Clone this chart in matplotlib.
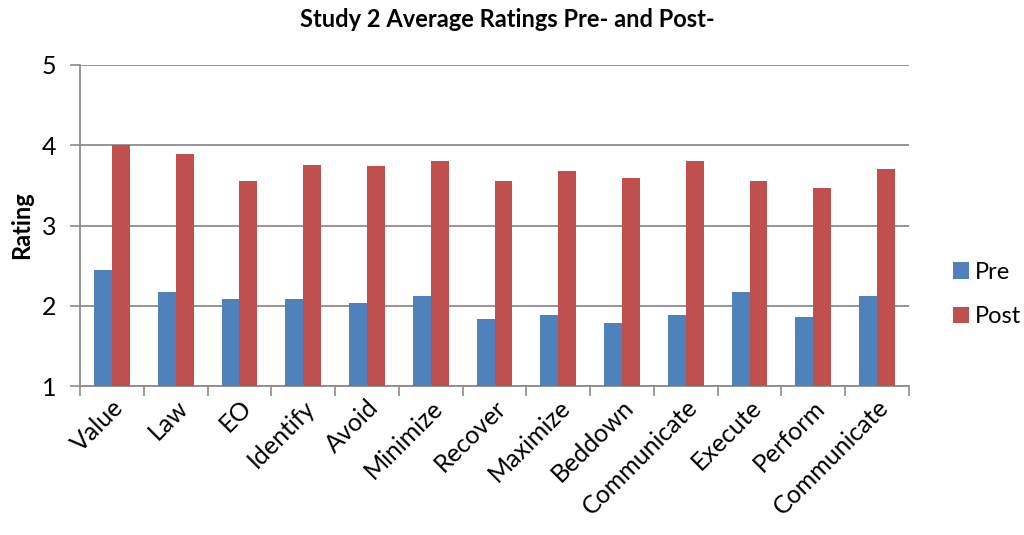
import numpy as np
import matplotlib.pyplot as plt

# data
categories = ['Value', 'Law', 'EO', 'Identify', 'Avoid', 'Minimize', 'Recover',
              'Maximize', 'Beddown', 'Communicate', 'Execute', 'Perform', 'Communicate']
pre = [2.44, 2.17, 2.09, 2.09, 2.03, 2.12, 1.84, 1.89, 1.78, 1.88, 2.17, 1.86, 2.12]
post = [4.00, 3.89, 3.56, 3.76, 3.74, 3.80, 3.56, 3.68, 3.59, 3.80, 3.56, 3.47, 3.70]

plt.rcParams['font.family'] = ['Lato', 'DejaVu Sans']

fig = plt.figure(figsize=(10.24, 5.35), dpi=100)
ax = fig.add_axes([80/1024, 1-386/535, (909-80)/1024, (386-65)/535])

x = np.arange(len(categories))
w = 0.28
ax.bar(x - w/2, pre, w, color='#4F81BD', label='Pre', zorder=3)
ax.bar(x + w/2, post, w, color='#C0504D', label='Post', zorder=3)

ax.set_ylim(1, 5)
ax.set_xlim(-0.5, len(categories) - 0.5)
ax.set_yticks([1, 2, 3, 4, 5])
ax.grid(axis='y', color='#8c8c8c', linewidth=1.3, zorder=0)

ax.set_xticks(x)
ax.set_xticklabels(categories, rotation=45, ha='right', rotation_mode='anchor', fontsize=18)
ax.set_xticks(np.arange(len(categories) + 1) - 0.5, minor=True)
ax.tick_params(axis='x', which='major', length=0, pad=7)
ax.tick_params(axis='x', which='minor', length=7, color='#8c8c8c', width=1.2)
ax.tick_params(axis='y', length=7, color='#8c8c8c', width=1.2, labelsize=18, pad=10)

for s in ['top', 'right']:
    ax.spines[s].set_visible(False)
for s in ['left', 'bottom']:
    ax.spines[s].set_color('#8c8c8c')
    ax.spines[s].set_linewidth(1.3)

ax.set_ylabel('Rating', fontsize=17, fontweight='bold', labelpad=6)
fig.suptitle('Study 2 Average Ratings Pre- and Post-', x=0.495, y=0.985,
             fontsize=17, fontweight='bold')

ax.legend(loc='center left', bbox_to_anchor=(1.027, 0.285), frameon=False,
          fontsize=17, handlelength=0.68, handleheight=0.68, handletextpad=0.25,
          labelspacing=1.0)

fig.savefig('out.png', dpi=100)
